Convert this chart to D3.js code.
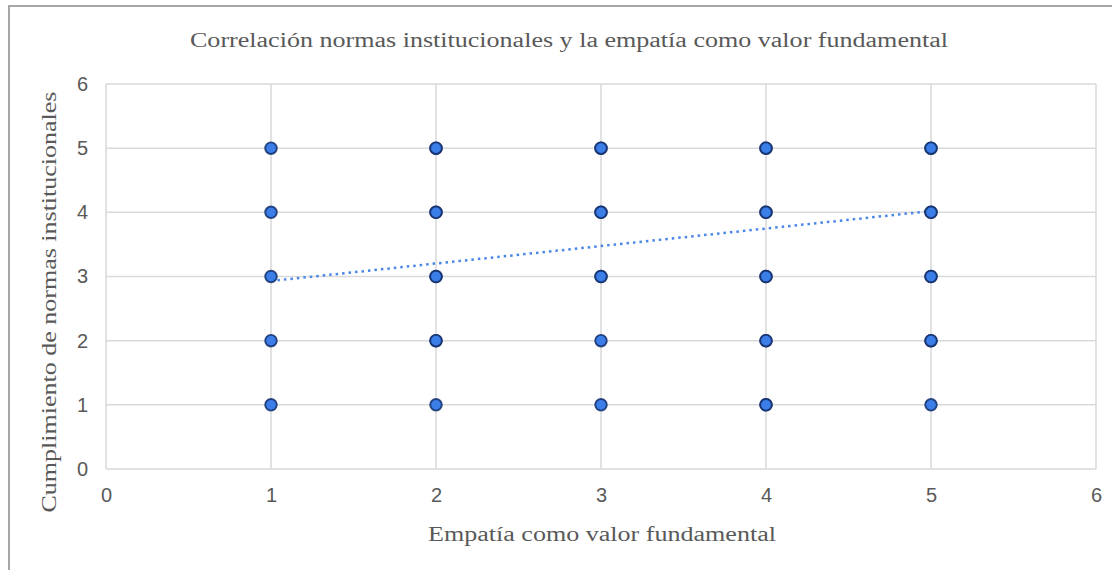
<!DOCTYPE html>
<html>
<head>
<meta charset="utf-8">
<script src="https://cdn.jsdelivr.net/npm/d3@7"></script>
<style>
  body { margin: 0; background: #fff; }
  svg { display: block; }
</style>
</head>
<body>
<svg id="chart"></svg>
<script>
(function() {

// data
var xValues = [1, 2, 3, 4, 5];
var yValues = [1, 2, 3, 4, 5];
// how many responses sit on each (x, y) spot; rows follow xValues, columns yValues
var counts = [
  [1, 1, 1, 1, 1],
  [1, 2, 2, 2, 2],
  [1, 1, 2, 2, 2],
  [2, 2, 2, 2, 2],
  [1, 2, 2, 2, 2]
];
var trendX = [1, 5];
var trendY = [2.93, 4.02];
var ticks = [0, 1, 2, 3, 4, 5, 6];

var title = "Correlación normas institucionales y la empatía como valor fundamental",
    xTitle = "Empatía como valor fundamental",
    yTitle = "Cumplimiento de normas institucionales";

var full_width = 1112, full_height = 570;
var margin = {top: 84, right: 16, bottom: 101, left: 106};

var svg = d3.select("#chart")
    .attr("width", full_width)
    .attr("height", full_height);

// outer frame (only left and top edges show)
svg.append("rect")
    .attr("x", 9).attr("y", 6)
    .attr("width", full_width + 20).attr("height", full_height + 20)
    .attr("fill", "#fff")
    .attr("stroke", "#a6a6a6")
    .attr("stroke-width", 2);

var x = d3.scaleLinear().domain([0, 6]).range([margin.left, full_width - margin.right]);
var y = d3.scaleLinear().domain([0, 6]).range([full_height - margin.bottom, margin.top]);

var g = svg.append("g");

// grid
g.append("g").selectAll("line")
    .data(ticks)
    .enter().append("line")
    .attr("x1", function(d) { return x(d); })
    .attr("x2", function(d) { return x(d); })
    .attr("y1", y(0)).attr("y2", y(6))
    .attr("stroke", "#d9d9d9").attr("stroke-width", 1.5);

g.append("g").selectAll("line")
    .data(ticks)
    .enter().append("line")
    .attr("y1", function(d) { return y(d); })
    .attr("y2", function(d) { return y(d); })
    .attr("x1", x(0)).attr("x2", x(6))
    .attr("stroke", "#d9d9d9").attr("stroke-width", 1.5);

// axes, tick labels only
var xAxis = g.append("g")
    .attr("transform", "translate(0," + y(0) + ")")
    .call(d3.axisBottom(x).tickValues(ticks).tickFormat(d3.format("d")).tickSize(0).tickPadding(19));
var yAxis = g.append("g")
    .attr("transform", "translate(" + x(0) + ",0)")
    .call(d3.axisLeft(y).tickValues(ticks).tickFormat(d3.format("d")).tickSize(0).tickPadding(18));

[xAxis, yAxis].forEach(function(a) {
  a.select(".domain").remove();
  a.selectAll("text")
      .attr("font-family", "'Liberation Sans', Arial, sans-serif")
      .attr("font-size", 20)
      .attr("fill", "#595959");
});

// trend line
var line = d3.line()
    .x(function(d) { return x(d[0]); })
    .y(function(d) { return y(d[1]); });

g.append("path")
    .datum(d3.zip(trendX, trendY))
    .attr("d", line)
    .attr("fill", "none")
    .attr("stroke", "#4a86e8")
    .attr("stroke-width", 2.5)
    .attr("stroke-dasharray", "2.5,4");

// points, one circle per response so stacked ones look darker
var pts = [];
xValues.forEach(function(xv, i) {
  yValues.forEach(function(yv, j) {
    for (var k = 0; k < counts[i][j]; k++) pts.push({x: xv, y: yv});
  });
});

g.append("g").selectAll("circle")
    .data(pts)
    .enter().append("circle")
    .attr("cx", function(d) { return x(d.x); })
    .attr("cy", function(d) { return y(d.y); })
    .attr("r", 5.8)
    .attr("fill", "#3c7ee8")
    .attr("stroke", "#132f6b")
    .attr("stroke-opacity", 0.85)
    .attr("stroke-width", 1.9);

// titles
var serif = "'Liberation Serif', 'Times New Roman', serif";

function label(sel, len) {
  return sel.attr("text-anchor", "middle")
      .attr("font-family", serif)
      .attr("font-size", 20)
      .attr("fill", "#595959")
      .attr("textLength", len)
      .attr("lengthAdjust", "spacingAndGlyphs");
}

label(svg.append("text").attr("x", 569).attr("y", 47), 758).text(title);
label(svg.append("text").attr("x", 602).attr("y", 541), 348).text(xTitle);
label(svg.append("text").attr("transform", "translate(56,302) rotate(-90)"), 421).text(yTitle);

})();
</script>
</body>
</html>
